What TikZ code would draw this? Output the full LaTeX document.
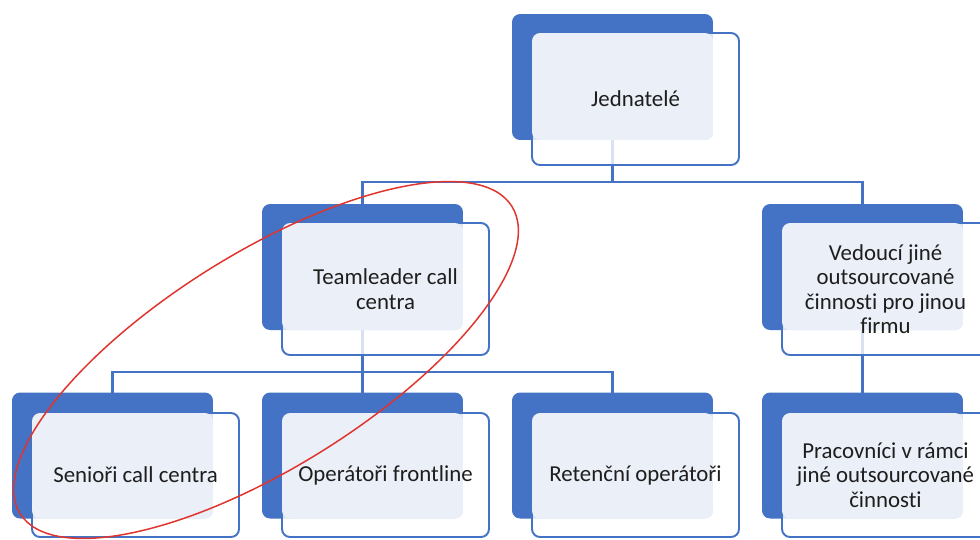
\documentclass[tikz,border=0pt]{standalone}
\usepackage{fontspec}
\setmainfont{Carlito}[Ligatures={NoCommon,NoContextual}, Contextuals=NoAlternate]
\usetikzlibrary{backgrounds}

\definecolor{orgblue}{HTML}{4472C4}
\definecolor{orglight}{HTML}{EBEFF7}
\definecolor{orgtext}{HTML}{1E1E1E}
\definecolor{ringred}{HTML}{E0352F}

\begin{document}
\begin{tikzpicture}[
		x=0.02cm, y=-0.02cm,
		backbox/.style={rectangle, rounded corners=0.16cm, fill=orgblue, inner sep=0pt, outer sep=0pt, minimum width=4.02cm, minimum height=2.52cm},
		frontbox/.style={rectangle, rounded corners=0.16cm, draw=orgblue, line width=1.1pt, fill=white, fill opacity=0.8, inner sep=0pt, outer sep=0pt, minimum width=4.14cm, minimum height=2.64cm},
		lightpart/.style={fill=orglight, rounded corners=0.16cm},
		txt/.style={align=center, text=orgtext, font=\fontsize{13}{13.9}\selectfont},
		conn/.style={draw=orgblue, line width=1.5pt}
	]
	\useasboundingbox (0,0) rectangle (980,539);

	% top level
	\node[backbox] (nodeJb) at (612.5, 77) {};
	\node[frontbox] (nodeJ) at (635.5, 99) {};
	\fill[lightpart] (nodeJ.north west) rectangle (nodeJb.south east);
	\node[txt] (txtJ) at (nodeJ.center) {Jednatelé};

	% second level
	\node[backbox] (nodeTb) at (362.5, 267) {};
	\node[frontbox] (nodeT) at (385.5, 289) {};
	\fill[lightpart] (nodeT.north west) rectangle (nodeTb.south east);
	\node[txt] (txtT) at (nodeT.center) {Teamleader call\\centra};

	\node[backbox] (nodeVb) at (862.5, 267) {};
	\node[frontbox] (nodeV) at (885.5, 289) {};
	\fill[lightpart] (nodeV.north west) rectangle (nodeVb.south east);
	\node[txt] (txtV) at (nodeV.center) {Vedoucí jiné\\outsourcované\\činnosti pro jinou\\firmu};

	% bottom level
	\node[backbox] (nodeS1b) at (112.5, 455.5) {};
	\node[frontbox, minimum height=2.48cm] (nodeS1) at (135.5, 475) {};
	\fill[lightpart] (nodeS1.north west) rectangle (nodeS1b.south east);
	\node[txt] (txtS1) at (nodeS1.center) {Senioři call centra};

	\node[backbox] (nodeS2b) at (362.5, 455.5) {};
	\node[frontbox, minimum height=2.48cm] (nodeS2) at (385.5, 475) {};
	\fill[lightpart] (nodeS2.north west) rectangle (nodeS2b.south east);
	\node[txt] (txtS2) at (nodeS2.center) {Operátoři frontline};

	\node[backbox] (nodeS3b) at (612.5, 455.5) {};
	\node[frontbox, minimum height=2.48cm] (nodeS3) at (635.5, 475) {};
	\fill[lightpart] (nodeS3.north west) rectangle (nodeS3b.south east);
	\node[txt] (txtS3) at (nodeS3.center) {Retenční operátoři};

	\node[backbox] (nodeP1b) at (862.5, 455.5) {};
	\node[frontbox, minimum height=2.48cm] (nodeP1) at (885.5, 475) {};
	\fill[lightpart] (nodeP1.north west) rectangle (nodeP1b.south east);
	\node[txt] (txtP1) at (nodeP1.center) {Pracovníci v rámci\\jiné outsourcované\\činnosti};

	% connectors behind the boxes
	\begin{pgfonlayer}{background}
		\coordinate (bus1) at (612.5, 182);
		\coordinate (bus2) at (362.5, 372);
		\draw[conn] (nodeJb.south) -- (bus1);
		\draw[conn] (nodeTb.north) |- (bus1) -| (nodeVb.north);
		\draw[conn] (nodeTb.south) -- (bus2);
		\draw[conn] (nodeS1b.north) |- (bus2) -| (nodeS3b.north);
		\draw[conn] (bus2) -- (nodeS2b.north);
		\draw[conn] (nodeVb.south) -- (nodeP1b.north);
	\end{pgfonlayer}

	% hand-drawn ring round the call centre branch
	\draw[ringred, line width=0.85pt, rotate around={32:(266,360)}] (266,360) ellipse [x radius=5.8cm, y radius=2.14cm];
\end{tikzpicture}
\end{document}
